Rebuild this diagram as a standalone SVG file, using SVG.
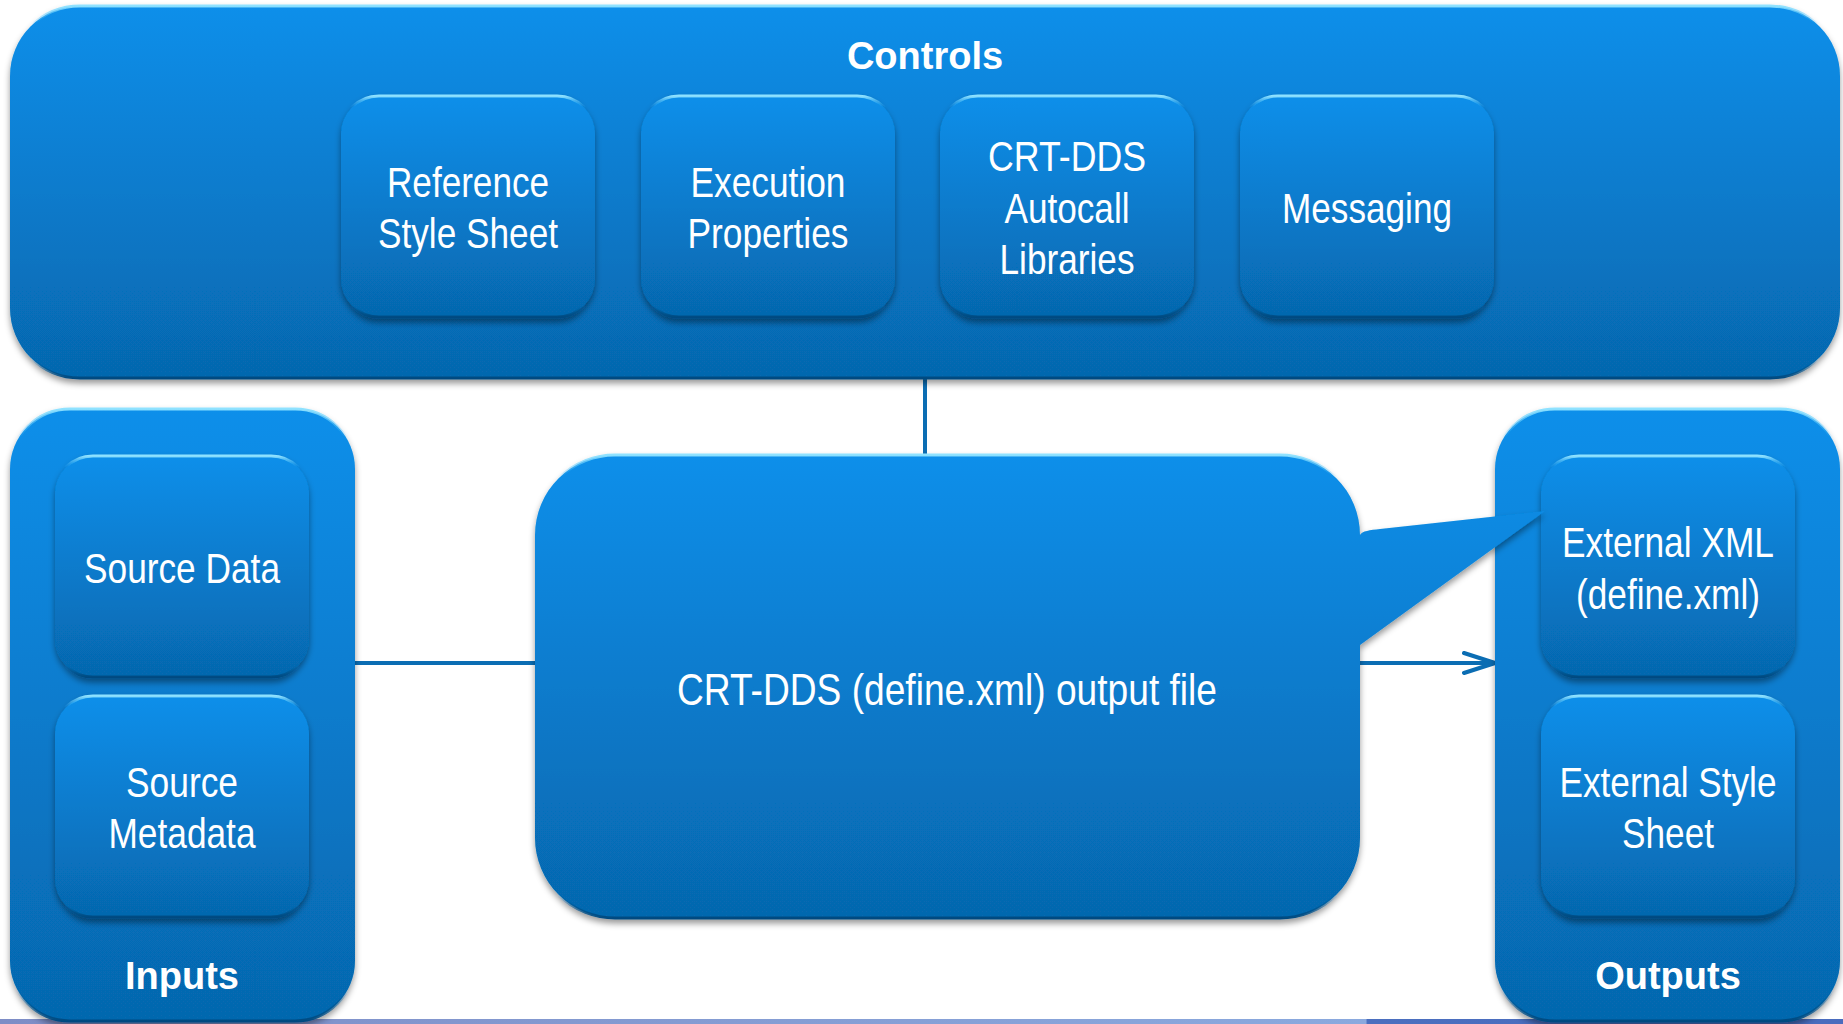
<svg xmlns="http://www.w3.org/2000/svg" width="1843" height="1024" viewBox="0 0 1843 1024">
  <defs>
    <linearGradient id="gBox" x1="0" y1="0" x2="0" y2="1">
      <stop offset="0" stop-color="#0a8fea"/>
      <stop offset="1" stop-color="#0667ae"/>
    </linearGradient>
    <linearGradient id="gEdge" x1="0" y1="0" x2="0" y2="1">
      <stop offset="0" stop-color="#8fe2ff" stop-opacity="1"/>
      <stop offset="0.05" stop-color="#3fb4f7" stop-opacity="0"/>
      <stop offset="0.95" stop-color="#04558f" stop-opacity="0"/>
      <stop offset="1" stop-color="#034a80" stop-opacity="1"/>
    </linearGradient>
    <linearGradient id="gStrip" x1="0" y1="0" x2="1843" y2="0" gradientUnits="userSpaceOnUse">
      <stop offset="0" stop-color="#7e8dc6"/>
      <stop offset="0.741" stop-color="#8aa9de"/>
      <stop offset="0.742" stop-color="#4b6fbf"/>
      <stop offset="1" stop-color="#4a6cbe"/>
    </linearGradient>
    <filter id="sh" x="-5%" y="-5%" width="110%" height="115%">
      <feDropShadow dx="0" dy="4" stdDeviation="3" flood-color="#000" flood-opacity="0.4"/>
    </filter>
    <marker id="arr" markerUnits="userSpaceOnUse" viewBox="0 0 36 26" refX="33" refY="13" markerWidth="36" markerHeight="26" orient="auto">
      <path d="M2,3 L33,13 L2,23" fill="none" stroke="#0b6db3" stroke-width="4" stroke-linecap="round"/>
    </marker>
    <style>
      .box { fill: url(#gBox); stroke: url(#gEdge); stroke-width: 3; filter: url(#sh); }
      .t { fill: #ffffff; font-family: "Liberation Sans Narrow", "Liberation Sans", Arial, sans-serif; font-size: 43px; text-anchor: middle; }
      .tc { fill: #ffffff; font-family: "Liberation Sans Narrow", "Liberation Sans", Arial, sans-serif; font-size: 45px; text-anchor: middle; }
      .tb { fill: #ffffff; font-family: "Liberation Sans", Arial, sans-serif; font-size: 38px; font-weight: bold; text-anchor: middle; }
      .conn { stroke: #0b6db3; stroke-width: 4; fill: none; }
    </style>
  </defs>

  <rect x="0" y="0" width="1843" height="1024" fill="#ffffff"/>
  <rect x="0" y="1019" width="1843" height="5" fill="url(#gStrip)"/>

  <g id="connectors">
    <line class="conn" x1="925" y1="376" x2="925" y2="457"/>
    <line class="conn" x1="353" y1="663" x2="537" y2="663"/>
    <line class="conn" x1="1358" y1="663" x2="1495" y2="663" marker-end="url(#arr)"/>
  </g>

  <g id="controls">
    <rect class="box" x="10" y="6" width="1830" height="372" rx="70"/>
    <text class="tb" x="925" y="69">Controls</text>
  </g>

  <g id="node-reference-style-sheet">
    <rect class="box" x="341" y="96" width="254" height="221" rx="38"/>
    <text class="t" x="468" y="197" textLength="162" lengthAdjust="spacingAndGlyphs">Reference</text>
    <text class="t" x="468" y="248" textLength="180" lengthAdjust="spacingAndGlyphs">Style Sheet</text>
  </g>

  <g id="node-execution-properties">
    <rect class="box" x="641" y="96" width="254" height="221" rx="38"/>
    <text class="t" x="768" y="197" textLength="155" lengthAdjust="spacingAndGlyphs">Execution</text>
    <text class="t" x="768" y="248" textLength="161" lengthAdjust="spacingAndGlyphs">Properties</text>
  </g>

  <g id="node-crt-dds-autocall-libraries">
    <rect class="box" x="940" y="96" width="254" height="221" rx="38"/>
    <text class="t" x="1067" y="171" textLength="158" lengthAdjust="spacingAndGlyphs">CRT-DDS</text>
    <text class="t" x="1067" y="223" textLength="125" lengthAdjust="spacingAndGlyphs">Autocall</text>
    <text class="t" x="1067" y="274" textLength="135" lengthAdjust="spacingAndGlyphs">Libraries</text>
  </g>

  <g id="node-messaging">
    <rect class="box" x="1240" y="96" width="254" height="221" rx="38"/>
    <text class="t" x="1367" y="223" textLength="170" lengthAdjust="spacingAndGlyphs">Messaging</text>
  </g>

  <g id="inputs">
    <rect class="box" x="10" y="409" width="345" height="612" rx="60"/>
    <text class="tb" x="182" y="989">Inputs</text>
  </g>

  <g id="node-source-data">
    <rect class="box" x="55" y="456" width="254" height="221" rx="38"/>
    <text class="t" x="182" y="583" textLength="196" lengthAdjust="spacingAndGlyphs">Source Data</text>
  </g>

  <g id="node-source-metadata">
    <rect class="box" x="55" y="696" width="254" height="221" rx="38"/>
    <text class="t" x="182" y="797" textLength="112" lengthAdjust="spacingAndGlyphs">Source</text>
    <text class="t" x="182" y="848" textLength="147" lengthAdjust="spacingAndGlyphs">Metadata</text>
  </g>

  <g id="outputs">
    <rect class="box" x="1495" y="409" width="345" height="612" rx="60"/>
    <text class="tb" x="1668" y="989">Outputs</text>
  </g>

  <g id="node-external-xml">
    <rect class="box" x="1541" y="456" width="254" height="221" rx="38"/>
    <text class="t" x="1668" y="557" textLength="212" lengthAdjust="spacingAndGlyphs">External XML</text>
    <text class="t" x="1668" y="609" textLength="184" lengthAdjust="spacingAndGlyphs">(define.xml)</text>
  </g>

  <g id="node-external-style-sheet">
    <rect class="box" x="1541" y="696" width="254" height="221" rx="38"/>
    <text class="t" x="1668" y="797" textLength="217" lengthAdjust="spacingAndGlyphs">External Style</text>
    <text class="t" x="1668" y="848" textLength="92" lengthAdjust="spacingAndGlyphs">Sheet</text>
  </g>

  <g id="node-crt-dds-output-file">
    <path class="box" d="M615,455 H1280 A80,80 0 0 1 1360,535 C1362,531 1370,530 1380,529 L1545,511 L1360,645 V838 A80,80 0 0 1 1280,918 H615 A80,80 0 0 1 535,838 V535 A80,80 0 0 1 615,455 Z"/>
    <text class="tc" x="947" y="705" textLength="540" lengthAdjust="spacingAndGlyphs">CRT-DDS (define.xml) output file</text>
  </g>
</svg>
